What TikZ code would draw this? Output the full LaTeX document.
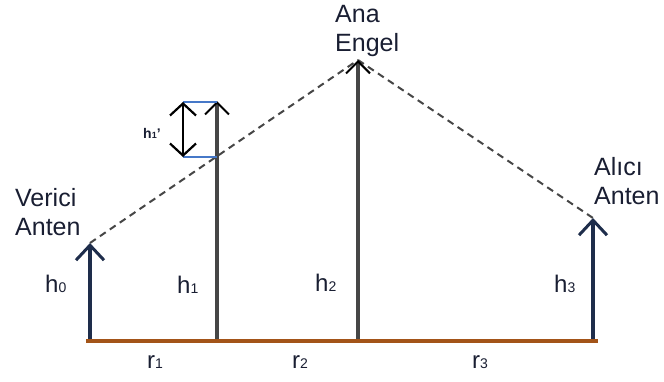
\documentclass[tikz,border=0pt]{standalone}
\usepackage{fontspec}
\setmainfont{Liberation Sans}
\usetikzlibrary{arrows.meta}
\definecolor{ground}{RGB}{163,84,24}
\definecolor{navy}{RGB}{30,45,75}
\definecolor{pole}{RGB}{70,70,70}
\definecolor{markblue}{RGB}{70,120,200}
\definecolor{txt}{RGB}{25,30,50}
\newcommand{\mysub}[1]{\raisebox{-0.5pt}{\fontsize{14}{14}\selectfont #1}}
\tikzset{
  x=1pt,y=-1pt,
  lbl/.style={inner sep=0pt,text=txt,font=\fontsize{25}{29}\selectfont,align=left},
  sym/.style={inner sep=0pt,text=txt,font=\fontsize{24}{26}\selectfont,anchor=base west},
  tipA/.style={-{Straight Barb[length=15pt,width=28pt,line width=3pt]}},
  tipB/.style={-{Straight Barb[length=12pt,width=24pt,line width=2pt,color=black]}},
  antenna/.style={navy,line width=3.4pt,tipA},
  polel/.style={pole,line width=3.3pt,tipB},
  sight/.style={pole,line width=2pt,dash pattern=on 7pt off 5pt},
  groundl/.style={ground,line width=4.5pt},
  markl/.style={markblue,line width=1.6pt}
}
\begin{document}
\begin{tikzpicture}
\useasboundingbox (0,0) rectangle (664,381);
% coordinates
\coordinate (g0) at (90,341);
\coordinate (t0) at (90,243);
\coordinate (g1) at (217,341);
\coordinate (t1) at (217,101);
\coordinate (k1) at (217,157);
\coordinate (g2) at (358,341);
\coordinate (t2) at (358,60);
\coordinate (g3) at (593,341);
\coordinate (t3) at (593,218);
\coordinate (gl) at (86,341);
\coordinate (gr) at (598,341);
\coordinate (da) at (183,102);
\coordinate (db) at (183,157);
\coordinate (dtr) at (217,102);
% line of sight
\draw[sight] (t0) -- (t2);
\draw[sight] (t2) -- (t3);
% poles
\draw[polel] (g1) -- (t1);
\draw[polel] (g2) -- (t2);
% h1' marker
\draw[markl] (da) -- (dtr);
\draw[markl] (db) -- (k1);
\draw[black,line width=2.4pt,{Straight Barb[length=12pt,width=26pt,line width=2.2pt]}-{Straight Barb[length=12pt,width=26pt,line width=2.2pt]}] (da) -- (db);
% antennas
\draw[antenna] (g0) -- (t0);
\draw[antenna] (g3) -- (t3);
% ground
\draw[groundl] (gl) -- (gr);
% labels
\node[lbl,anchor=north west] (verici) at (15,188) {Verici\\Anten};
\node[lbl,anchor=north west] (ana) at (335,5) {Ana\\Engel};
\node[lbl,anchor=north west] (alici) at (594,157) {Alıcı\\Anten};
\node[sym] (h0) at (45,292) {h\mysub{0}};
\node[sym] (h1) at (177,293) {h\mysub{1}};
\node[sym] (h2) at (315,291) {h\mysub{2}};
\node[sym] (h3) at (554,292) {h\mysub{3}};
\node[sym] (r1) at (147,368) {r\mysub{1}};
\node[sym] (r2) at (292,368) {r\mysub{2}};
\node[sym] (r3) at (472,368) {r\mysub{3}};
\node[inner sep=0pt,text=txt,anchor=base west,font=\fontsize{14}{14}\selectfont\bfseries] (h1p) at (143,138) {h\raisebox{-0.5pt}{\fontsize{9}{9}\selectfont 1}'};
\end{tikzpicture}
\end{document}
